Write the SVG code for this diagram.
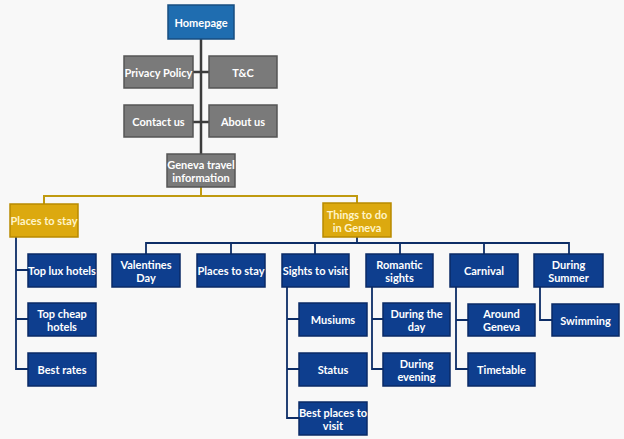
<svg xmlns="http://www.w3.org/2000/svg" width="624" height="439" viewBox="0 0 624 439">
<style>
text{font-family:Lato,"Open Sans","Liberation Sans",sans-serif;font-weight:bold;font-size:11px;fill:#fff;text-anchor:middle;dominant-baseline:central}
.hp{fill:#1f6db0;stroke:#174d80;stroke-width:1.5}
.gr{fill:#7a7a7a;stroke:#555;stroke-width:1.5}
.ye{fill:#dca90f;stroke:#b88a00;stroke-width:1.5}
.nv{fill:#0e3e8e;stroke:#0a2a66;stroke-width:1.5}
.ye + text, .yt{fill:#fff4c8}
.lg{stroke:#3c3c3c;stroke-width:2.5;fill:none}
.ly{stroke:#c09a10;stroke-width:2;fill:none}
.lb{stroke:#0d2d66;stroke-width:1.8;fill:none}
</style>
<rect width="624" height="439" fill="#f8f8f8"/>
<g id="connectors">
<path class="lg" d="M201 39V154M193 72H209M193 122H209"/>
<path class="ly" d="M201 187V196M44 204V196H357V203"/>
<path class="lb" d="M357 237V243M146 254V243H569V254M231 243V254M315 243V254M400 243V254M484 243V254"/>
<path class="lb" d="M16 237V369H28M16 270H28M16 319H28"/>
<path class="lb" d="M287 287V418H299M287 319H299M287 369H299"/>
<path class="lb" d="M372 287V369H383M372 319H383"/>
<path class="lb" d="M456 287V369H468M456 320H468"/>
<path class="lb" d="M540 287V320H552"/>
</g>
<g id="homepage"><rect class="hp" x="168" y="5" width="66" height="34"/><text x="201" y="22">Homepage</text></g>
<g id="privacy"><rect class="gr" x="124" y="56" width="69" height="32"/><text x="158.5" y="72">Privacy Policy</text></g>
<g id="tc"><rect class="gr" x="209" y="56" width="68" height="32"/><text x="243" y="72">T&amp;C</text></g>
<g id="contact"><rect class="gr" x="124" y="105" width="69" height="32"/><text x="158.5" y="121">Contact us</text></g>
<g id="about"><rect class="gr" x="209" y="105" width="68" height="32"/><text x="243" y="121">About us</text></g>
<g id="geneva"><rect class="gr" x="167" y="154" width="68" height="33"/><text x="201" y="164">Geneva travel</text><text x="201" y="177">information</text></g>
<g id="places-stay-main"><rect class="ye" x="10" y="204" width="68" height="33"/><text class="yt" x="44" y="220.5">Places to stay</text></g>
<g id="things"><rect class="ye" x="323" y="203" width="68" height="34"/><text class="yt" x="357" y="214">Things to do</text><text class="yt" x="357" y="227">in Geneva</text></g>
<g id="top-lux"><rect class="nv" x="28" y="254" width="68" height="33"/><text x="62" y="270.5">Top lux hotels</text></g>
<g id="top-cheap"><rect class="nv" x="28" y="303" width="68" height="33"/><text x="62" y="313">Top cheap</text><text x="62" y="326">hotels</text></g>
<g id="best-rates"><rect class="nv" x="28" y="353" width="68" height="33"/><text x="62" y="369.5">Best rates</text></g>
<g id="valentines"><rect class="nv" x="112" y="254" width="68" height="33"/><text x="146" y="264">Valentines</text><text x="146" y="277">Day</text></g>
<g id="places-stay"><rect class="nv" x="197" y="254" width="68" height="33"/><text x="231" y="270.5">Places to stay</text></g>
<g id="sights"><rect class="nv" x="282" y="254" width="67" height="33"/><text x="315.5" y="270.5">Sights to visit</text></g>
<g id="romantic"><rect class="nv" x="366" y="254" width="67" height="33"/><text x="399.5" y="264">Romantic</text><text x="399.5" y="277">sights</text></g>
<g id="carnival"><rect class="nv" x="450" y="254" width="68" height="33"/><text x="484" y="270.5">Carnival</text></g>
<g id="summer"><rect class="nv" x="534" y="254" width="69" height="33"/><text x="568.5" y="264">During</text><text x="568.5" y="277">Summer</text></g>
<g id="musiums"><rect class="nv" x="299" y="303" width="68" height="33"/><text x="333" y="319.5">Musiums</text></g>
<g id="status"><rect class="nv" x="299" y="353" width="68" height="33"/><text x="333" y="369.5">Status</text></g>
<g id="best-places"><rect class="nv" x="299" y="402" width="68" height="33"/><text x="333" y="412">Best places to</text><text x="333" y="425">visit</text></g>
<g id="during-day"><rect class="nv" x="383" y="303" width="67" height="33"/><text x="416.5" y="313">During the</text><text x="416.5" y="326">day</text></g>
<g id="during-evening"><rect class="nv" x="383" y="353" width="67" height="33"/><text x="416.5" y="363">During</text><text x="416.5" y="376">evening</text></g>
<g id="around-geneva"><rect class="nv" x="468" y="304" width="67" height="32"/><text x="501.5" y="313.5">Around</text><text x="501.5" y="326.5">Geneva</text></g>
<g id="timetable"><rect class="nv" x="468" y="353" width="67" height="33"/><text x="501.5" y="369.5">Timetable</text></g>
<g id="swimming"><rect class="nv" x="552" y="304" width="67" height="32"/><text x="585.5" y="320">Swimming</text></g>
</svg>
